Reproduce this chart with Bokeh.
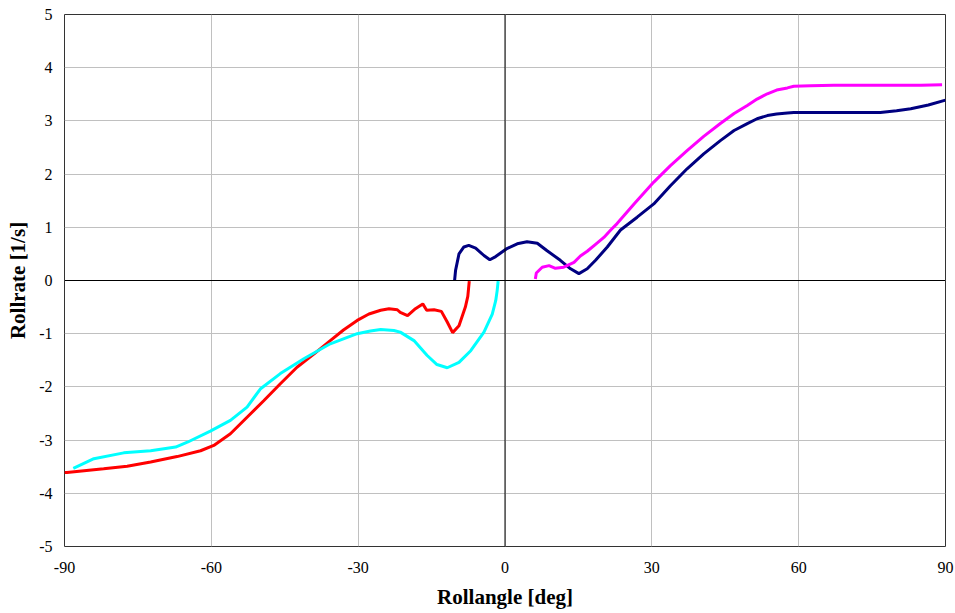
from bokeh.plotting import figure
from bokeh.models import Range1d, FixedTicker, Span
from bokeh.embed import file_html
from bokeh.resources import INLINE

x_ticks = [-90, -60, -30, 0, 30, 60, 90]
y_ticks = [-5, -4, -3, -2, -1, 0, 1, 2, 3, 4, 5]
x_title = "Rollangle [deg]"
y_title = "Rollrate [1/s]"

red_x = [-90.0, -89.5, -82.0, -77.2, -72.4, -67.0, -62.2, -59.5, -56.1, -52.7, -49.3, -45.9,
         -42.5, -39.0, -35.7, -33.0, -30.2, -27.8, -25.4, -23.7, -22.0, -21.4, -19.9, -18.3,
         -16.8, -16.0, -14.5, -13.0, -11.8, -10.7, -9.4, -8.1, -7.6, -7.3]
red_y = [-3.61, -3.61, -3.54, -3.49, -3.41, -3.31, -3.20, -3.10, -2.88, -2.57, -2.26, -1.94,
         -1.63, -1.38, -1.13, -0.93, -0.75, -0.63, -0.56, -0.53, -0.55, -0.60, -0.66, -0.53,
         -0.44, -0.56, -0.55, -0.58, -0.78, -0.98, -0.85, -0.50, -0.30, -0.01]

cyan_x = [-88.2, -84.0, -77.9, -72.4, -67.3, -64.9, -60.2, -56.1, -52.7, -50.0, -45.9, -41.1,
          -35.7, -30.2, -27.5, -25.4, -22.7, -21.4, -18.6, -15.9, -13.9, -11.8, -9.4, -7.0,
          -4.3, -2.6, -1.9, -1.6, -1.4]
cyan_y = [-3.53, -3.35, -3.24, -3.20, -3.13, -3.04, -2.83, -2.63, -2.38, -2.04, -1.75, -1.47,
          -1.19, -1.00, -0.95, -0.92, -0.94, -0.97, -1.13, -1.41, -1.58, -1.64, -1.54, -1.32,
          -0.97, -0.63, -0.38, -0.19, -0.01]

navy_x = [-10.3, -10.1, -9.4, -8.4, -7.4, -6.0, -4.3, -3.1, -1.9, 0.4, 2.5, 4.5, 6.6, 8.6,
          11.3, 13.4, 15.1, 16.8, 18.5, 20.9, 23.6, 27.0, 30.4, 33.8, 37.2, 40.6, 44.0, 46.8,
          49.5, 51.5, 53.6, 55.5, 57.7, 59.0, 62.4, 67.2, 72.0, 76.7, 80.0, 82.9, 86.5, 90.0]
navy_y = [0.0, 0.19, 0.50, 0.63, 0.66, 0.61, 0.47, 0.39, 0.45, 0.60, 0.69, 0.73, 0.70, 0.56,
          0.38, 0.22, 0.13, 0.22, 0.38, 0.63, 0.95, 1.19, 1.44, 1.78, 2.10, 2.38, 2.63, 2.82,
          2.95, 3.04, 3.10, 3.13, 3.15, 3.16, 3.16, 3.16, 3.16, 3.16, 3.19, 3.23, 3.30, 3.39]

magenta_x = [6.2, 6.4, 7.6, 9.0, 10.3, 12.0, 14.1, 15.4, 16.8, 18.5, 20.2, 21.6, 22.9, 26.5,
             30.4, 33.8, 37.2, 40.6, 44.0, 46.8, 49.5, 51.5, 53.6, 55.5, 57.7, 59.0, 62.4, 67.2,
             75.0, 80.8, 85.0, 89.3]
magenta_y = [0.03, 0.14, 0.25, 0.28, 0.23, 0.25, 0.34, 0.46, 0.55, 0.68, 0.81, 0.95, 1.07, 1.45,
             1.85, 2.16, 2.44, 2.71, 2.95, 3.14, 3.29, 3.41, 3.51, 3.58, 3.62, 3.65, 3.66, 3.67,
             3.67, 3.67, 3.67, 3.68]

p = figure(width=955, height=613, output_backend="svg", toolbar_location=None,
           x_range=Range1d(-90, 90), y_range=Range1d(-5, 5),
           min_border_left=64, min_border_right=10, min_border_top=14, min_border_bottom=67)

p.xaxis.ticker = FixedTicker(ticks=x_ticks)
p.yaxis.ticker = FixedTicker(ticks=y_ticks)
p.xaxis.major_label_overrides = {t: str(t) for t in x_ticks}
p.yaxis.major_label_overrides = {t: str(t) for t in y_ticks}
for g in (p.xgrid, p.ygrid):
    g.grid_line_color = "#c0c0c0"
    g.grid_line_width = 1

p.outline_line_color = "#333333"
p.outline_line_width = 1

for ax in (p.xaxis, p.yaxis):
    ax.axis_line_color = None
    ax.major_tick_line_color = None
    ax.minor_tick_line_color = None
    ax.major_tick_out = 0
    ax.major_tick_in = 0
    ax.minor_tick_out = 0
    ax.minor_tick_in = 0
    ax.major_label_text_font = "Liberation Serif"
    ax.major_label_text_font_size = "16px"
    ax.major_label_text_color = "#000000"
    ax.axis_label_text_font = "Liberation Serif"
    ax.axis_label_text_font_style = "bold"
    ax.axis_label_text_font_size = "21px"
    ax.axis_label_text_color = "#000000"

p.xaxis.axis_label = x_title
p.yaxis.axis_label = y_title
p.xaxis.major_label_standoff = 15
p.xaxis.axis_label_standoff = 9
p.yaxis.major_label_standoff = 12
p.yaxis.axis_label_standoff = 6

p.add_layout(Span(location=0, dimension="width", line_color="black", line_width=1))
p.add_layout(Span(location=0, dimension="height", line_color="black", line_width=1))

p.line(red_x, red_y, line_color="#ff0000", line_width=3)
p.line(cyan_x, cyan_y, line_color="#00ffff", line_width=3)
p.line(navy_x, navy_y, line_color="#000080", line_width=3)
p.line(magenta_x, magenta_y, line_color="#ff00ff", line_width=3)

open("out.html", "w").write(file_html(p, INLINE))
